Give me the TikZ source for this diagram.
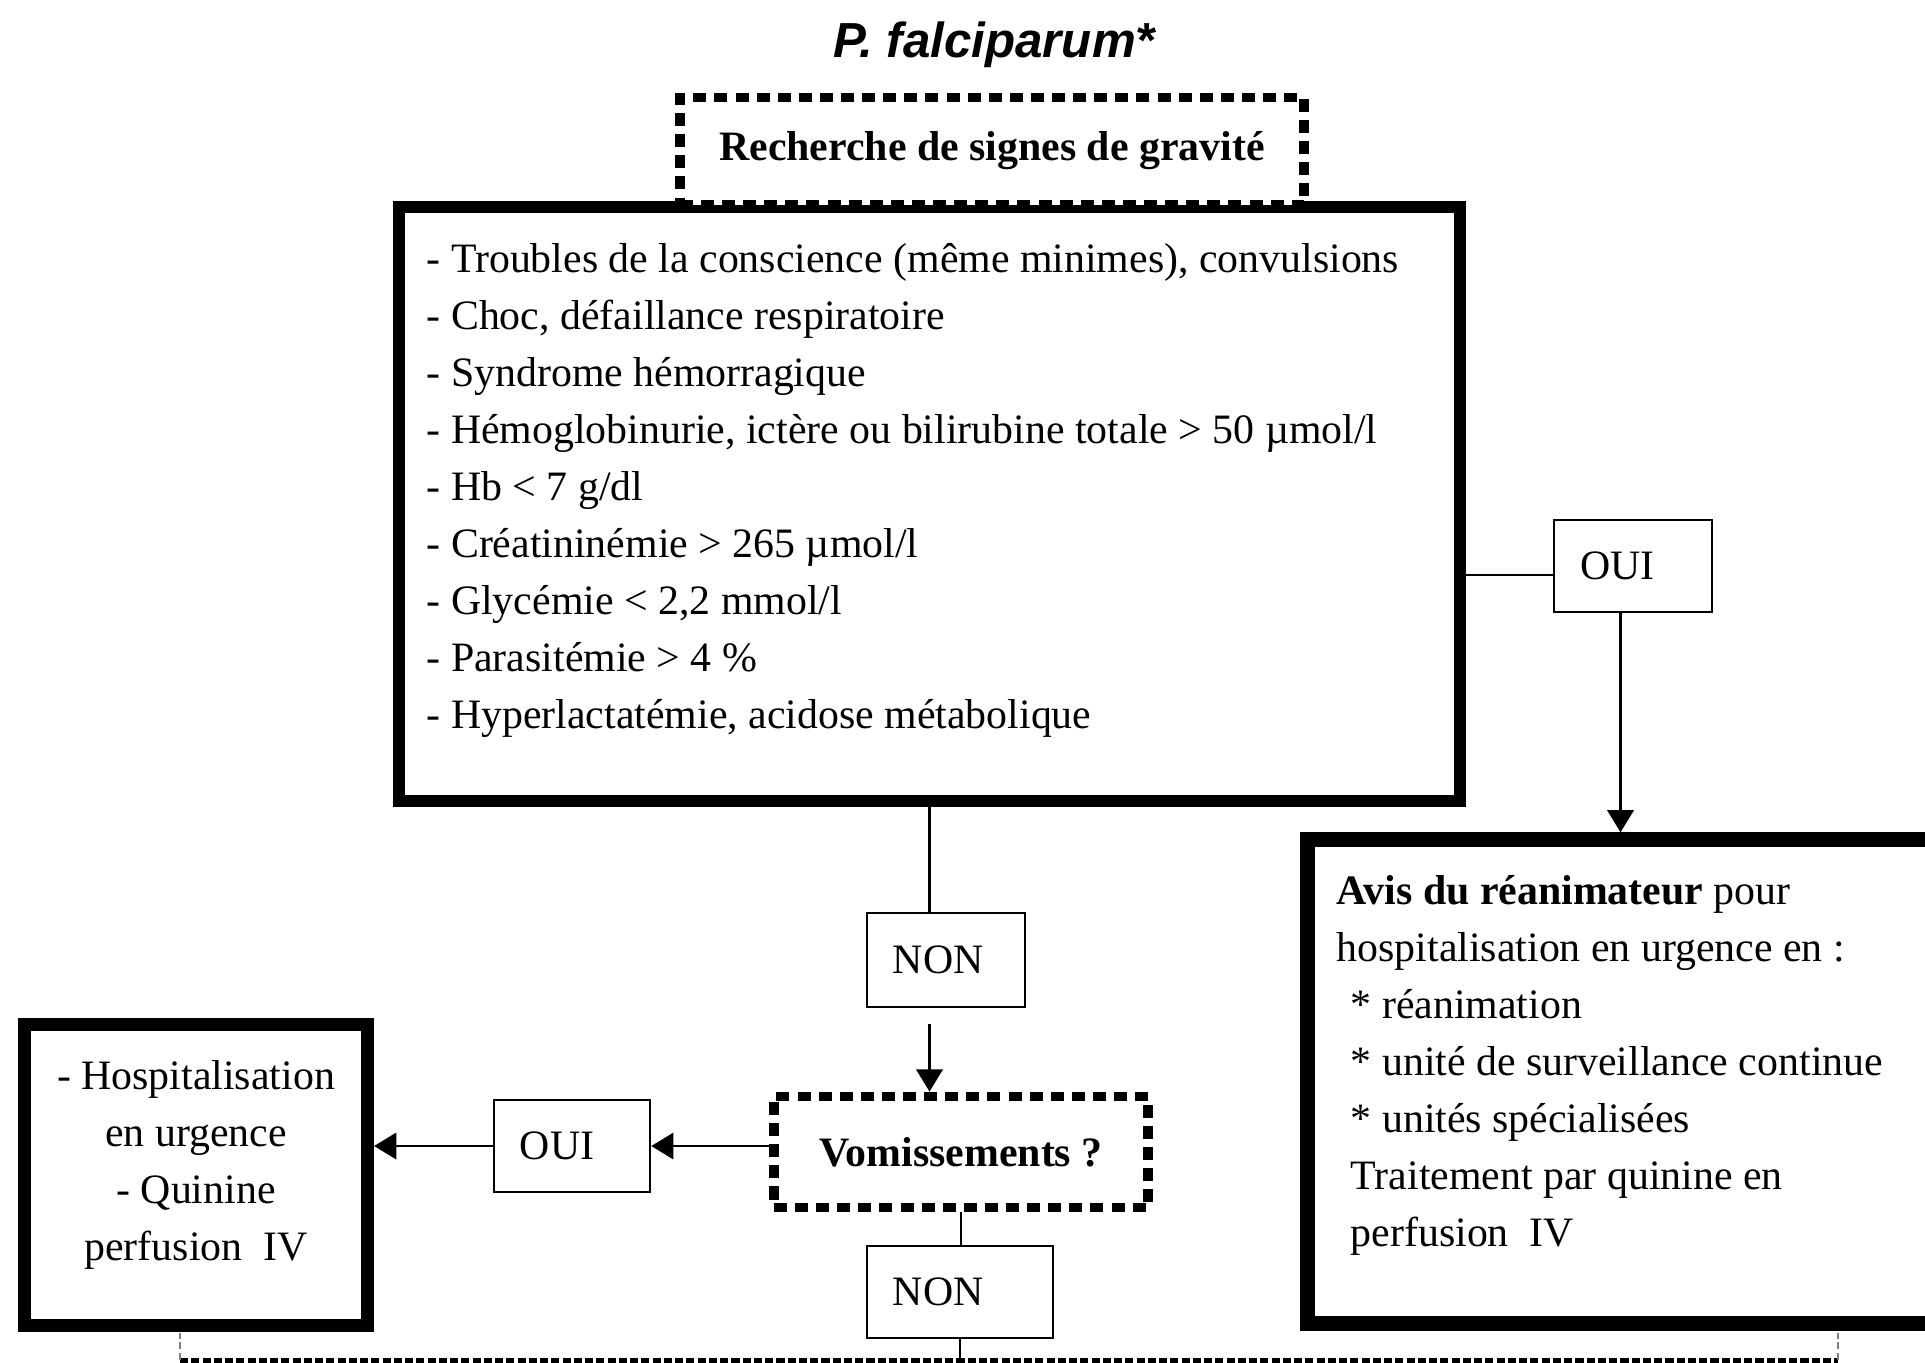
\documentclass[tikz,border=0pt]{standalone}
\usepackage{fontspec}
\setmainfont{Liberation Serif}
\newfontfamily\titlefont{Liberation Sans}
\usetikzlibrary{arrows.meta}

\begin{document}
\begin{tikzpicture}[x=0.01cm, y=-0.01cm,
  every node/.style={font=\fontsize{11.9}{16.2}\selectfont, inner sep=0pt},
  frame/.style={draw, line width=#1},
  dotbox/.style={draw, fill=white, line width=2.8pt, dash pattern=on 3.7pt off 2.3pt,
    font=\fontsize{11.9}{16.2}\selectfont\bfseries},
  choice/.style={draw, line width=.7pt, minimum height=.92cm, inner xsep=.26cm, text width=#1, align=left},
  link/.style={line width=.7pt},
  arr/.style={link, -{Triangle[width=7.5pt, length=6.3pt]}},
  rule/.style={line width=1.4pt, dash pattern=on 2.3pt off .9pt}]
\useasboundingbox (0,0) rectangle (1925,1362);

\node[font=\fontsize{14}{17}\titlefont\bfseries\itshape] (title) at (994,45) {P. falciparum*};

\node[frame=3.4pt, minimum width=10.61cm, minimum height=5.94cm] (signs) at (929.5,504) {};
\node[anchor=north west, align=left] (signlist) at (426,243) {- Troubles de la conscience (même minimes), convulsions\\
- Choc, défaillance respiratoire\\
- Syndrome hémorragique\\
- Hémoglobinurie, ictère ou bilirubine totale > 50 µmol/l\\
- Hb < 7 g/dl\\
- Créatininémie > 265 µmol/l\\
- Glycémie < 2,2 mmol/l\\
- Parasitémie > 4 \%\\
- Hyperlactatémie, acidose métabolique};
\node[dotbox, minimum width=6.24cm, minimum height=1.07cm] (search) at (992,151) {Recherche de signes de gravité};

\node[choice=1.06cm] (ouiR) at (1633,566) {OUI};
\node[frame=4.3pt, minimum width=6.25cm, minimum height=4.83cm] (avis) at (1620.5,1081.5) {};
\node[anchor=north west, align=left] (avislist) at (1336,875) {\textbf{Avis du réanimateur} pour\\
hospitalisation en urgence en :\\
\hspace*{4pt}* réanimation\\
\hspace*{4pt}* unité de surveillance continue\\
\hspace*{4pt}* unités spécialisées\\
\hspace*{4pt}Traitement par quinine en\\
\hspace*{4pt}perfusion\ \ IV};

\node[choice=1.06cm, minimum height=.94cm] (non1) at (946,960) {NON};
\node[dotbox, minimum width=3.74cm, minimum height=1.11cm] (vomit) at (961,1152) {Vomissements ?};
\node[choice=1.04cm] (ouiL) at (572,1146) {OUI};
\node[frame=3.7pt, minimum width=3.43cm, minimum height=3.01cm] (hosp) at (196,1175) {};
\node[align=center] (hosplist) at (196,1165) {- Hospitalisation\\ en urgence\\ - Quinine\\ perfusion\ \ IV};
\node[choice=1.34cm] (non2) at (960,1292) {NON};

\coordinate (bl) at (180,1360);
\coordinate (br) at (1838,1360);

\draw[link] ([yshift=-.09cm]ouiR.west) -- ([yshift=-.09cm]ouiR.west -| signs.east);
\draw[arr] (avis.north |- ouiR.south) -- (avis.north);
\draw[link] (signs.south) -- (signs.south |- non1.north);
\draw[arr, shorten <=.16cm] (signs.south |- non1.south) -- (signs.south |- vomit.north);
\draw[arr] (vomit.west |- ouiL.east) -- (ouiL.east);
\draw[arr] (ouiL.west) -- (hosp.east |- ouiL.west);
\draw[link] (vomit.south) -- (vomit.south |- non2.north);
\draw[link] (non2.south) -- (non2.south |- bl);
\draw[rule] (bl) -- (br);
\foreach \p in {bl,br}
  \draw[link, gray, dash pattern=on 2pt off 1pt] (\p) -- ++(0,-27);
\end{tikzpicture}
\end{document}
